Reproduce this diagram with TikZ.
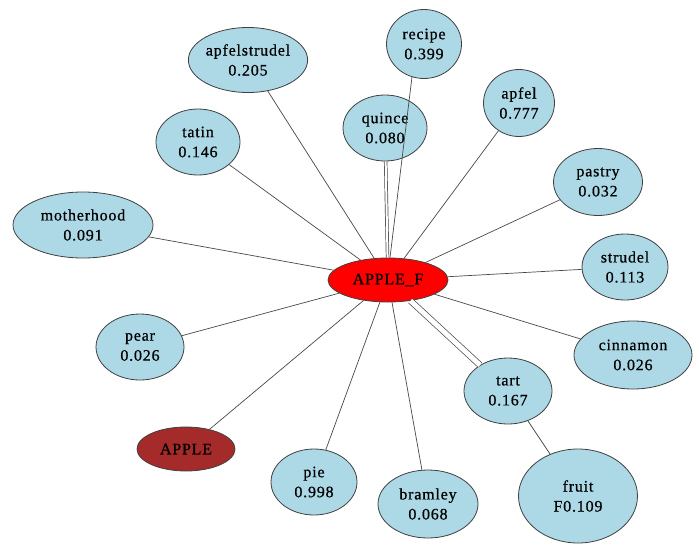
\documentclass[tikz,border=0pt]{standalone}
\usepackage{fontspec}
\setmainfont{Liberation Serif}[LetterSpace=5,FakeBold=0.6]
\usetikzlibrary{shapes.geometric}

\definecolor{termblue}{HTML}{ADD8E6}
\definecolor{hubred}{HTML}{FF0000}
\definecolor{rootbrown}{HTML}{A52A2A}
\definecolor{edgegray}{HTML}{484848}

\begin{document}
\begin{tikzpicture}[x=1pt,y=-1pt,
    term/.style={ellipse,draw=black!75,line width=0.8pt,fill=termblue,
      inner sep=0pt,align=center,font=\fontsize{16}{20}\selectfont},
    hubnode/.style={term,fill=hubred},
    rootnode/.style={term,fill=rootbrown},
    edge/.style={draw=edgegray,line width=0.7pt},
    twin/.style={edge,double=white,double distance=#1}]
  \useasboundingbox (0,0) rectangle (699,544);

  % ================= centre =================
  \node[hubnode,minimum width=120,minimum height=44] (hub) at (388,280) {APPLE\_F};

  % ================= upper terms =================
  \node[term,minimum width=75,minimum height=69] (recipe) at (424,44) {recipe\\0.399};
  \node[term,minimum width=104,minimum height=65] (apfelstrudel) at (248,60) {apfelstrudel\\0.205};
  \node[term,minimum width=71,minimum height=67] (apfel) at (519,103) {apfel\\0.777};
  \node[term,minimum width=84,minimum height=66] (quince) at (385,128) {quince\\0.080};
  \node[term,minimum width=84,minimum height=66] (tatin) at (198,142) {tatin\\0.146};
  \node[term,minimum width=89,minimum height=67] (pastry) at (598,182) {pastry\\0.032};
  \node[term,minimum width=140,minimum height=66] (motherhood) at (83,225) {motherhood\\0.091};
  \node[term,minimum width=86,minimum height=66] (strudel) at (625,267) {strudel\\0.113};

  % ================= lower terms =================
  \node[term,minimum width=88,minimum height=66] (pear) at (140,347) {pear\\0.026};
  \node[term,minimum width=118,minimum height=68] (cinnamon) at (633,355) {cinnamon\\0.026};
  \node[term,minimum width=88,minimum height=66] (tart) at (508,391) {tart\\0.167};
  \node[term,minimum width=119,minimum height=94] (fruit) at (578,496) {fruit\\F0.109};
  \node[rootnode,minimum width=98,minimum height=44] (apple) at (186,449) {APPLE};
  \node[term,minimum width=86,minimum height=66] (pie) at (314,482) {pie\\0.998};
  \node[term,minimum width=100,minimum height=68] (bramley) at (428,504) {bramley\\0.068};

  % ================= edges =================
  \foreach \t in {apfelstrudel,apfel,tatin,pastry,motherhood,strudel,
                  pear,cinnamon,apple,pie,bramley}
    \draw[edge] (hub) -- (\t);
  \draw[twin=2pt] (hub) -- (quince);
  \draw[twin=5pt] (hub) -- (tart);
  \draw[edge] (tart) -- (fruit);
  \draw[edge] ([xshift=2pt]hub.north) -- (recipe.250);
\end{tikzpicture}
\end{document}
